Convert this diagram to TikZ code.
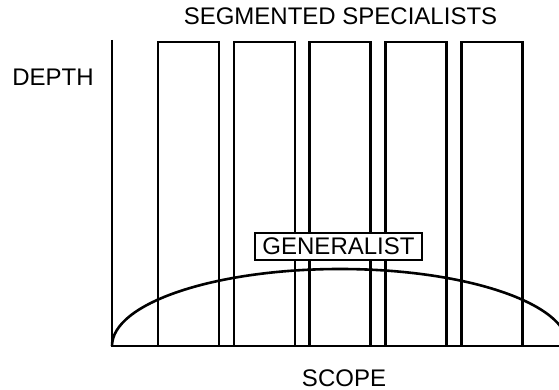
\documentclass[tikz,border=0pt]{standalone}
\usepackage{fontspec}
\setmainfont{Liberation Sans}
\usetikzlibrary{positioning}

\begin{document}
\begin{tikzpicture}[x=1pt, y=1pt, line width=2.6pt,
    every node/.style={font=\fontsize{24pt}{28pt}\selectfont, inner sep=0pt}]
        \useasboundingbox (0,0) rectangle (559,390);
        \clip (0,0) rectangle (559,390);
        % axes
        \coordinate (origin) at (112,44);
        \coordinate (ytop) at (112,350);
        \coordinate (xend) at (559,44);
        \draw (ytop) -- (origin) -- (xend);
        % five specialist columns
        \def\pitch{75.8}
        \foreach \i in {0,...,4}
          \draw ({158+\pitch*\i},44) rectangle ({219+\pitch*\i},348);
        % generalist curve
        \draw (origin) arc[start angle=180, end angle=0, x radius=228, y radius=77];
        \node[draw, fill=white, line width=2pt, inner xsep=7pt, inner ysep=5pt] (gen) at (338.5,143.5) {GENERALIST};
        % labels
        \node (title) at (340.5,373.5) {SEGMENTED SPECIALISTS};
        \node (depth) at (53,312.5) {DEPTH};
        \node (scope) at (344,11.5) {SCOPE};
      \end{tikzpicture}
\end{document}
